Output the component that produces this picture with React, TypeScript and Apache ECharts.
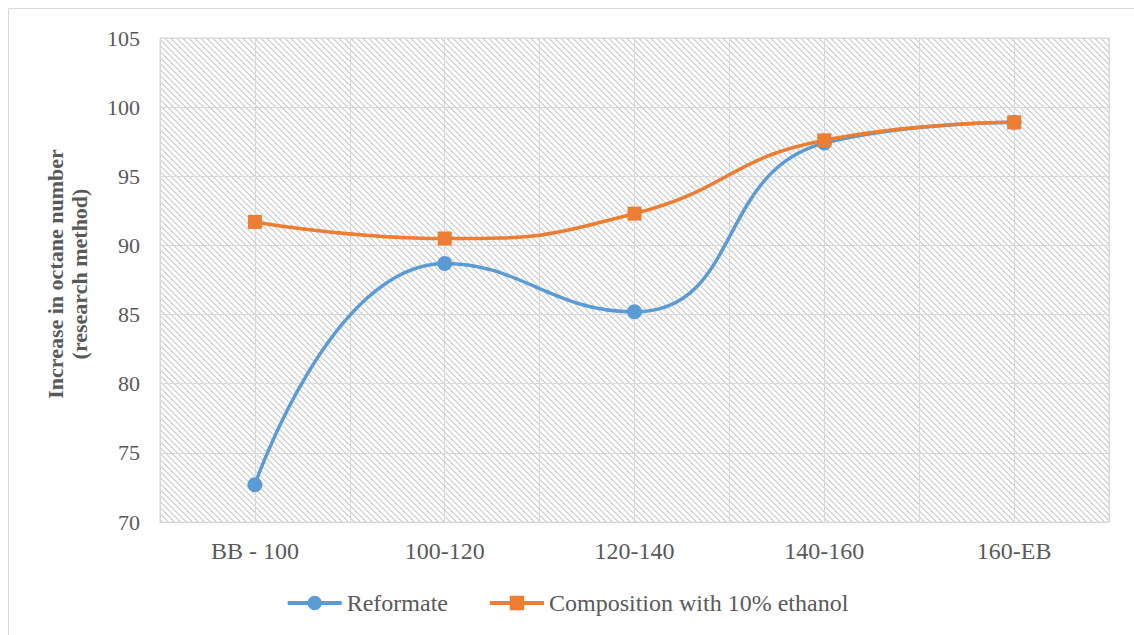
import React, { useEffect, useRef } from "react";
import * as echarts from "echarts";

const categories = ["BB - 100", "100-120", "120-140", "140-160", "160-EB"];
const reformate = [72.7, 88.7, 85.2, 97.4, 98.9];
const ethanolBlend = [91.7, 90.5, 92.3, 97.6, 98.9];
const halfSteps = ["a", "b", "c", "d", "e", "f", "g", "h", "i", "j"];

const FONT = "'Liberation Serif', 'Times New Roman', serif";
const TEXT = "#595959";
const GRID = "#d9d9d9";

// Small tile for the diagonal hatch that fills the plot area
function makeHatch(): string {
  const size = 6;
  const c = document.createElement("canvas");
  c.width = size;
  c.height = size;
  const ctx = c.getContext("2d")!;
  ctx.fillStyle = "#ffffff";
  ctx.fillRect(0, 0, size, size);
  ctx.fillStyle = "#d6d6d6";
  for (let y = 0; y < size; y++) {
    for (let x = 0; x < size; x++) {
      const d = (((x - y) % size) + size) % size;
      if (d === 0 || d === 1) ctx.fillRect(x, y, 1, 1);
    }
  }
  return c.toDataURL();
}

export default function App() {
  const ref = useRef<HTMLDivElement>(null);

  useEffect(() => {
    document.body.style.margin = "0";
    const chart = echarts.init(ref.current!, null, { renderer: "svg" });
    const hatch = makeHatch();

    chart.setOption({
      animation: false,
      backgroundColor: "#ffffff",
      grid: {
        left: 160,
        top: 38,
        right: 25,
        bottom: 113,
        show: true,
        borderColor: GRID,
        borderWidth: 1,
        backgroundColor: {
          image: hatch,
          imageWidth: 6,
          imageHeight: 6,
          repeat: "repeat",
        } as any,
      },
      graphic: [
        {
          type: "rect",
          silent: true,
          shape: { x: 8.5, y: 8.5, width: 1200, height: 700 },
          style: { fill: "none", stroke: GRID, lineWidth: 1 },
          z: -10,
        },
        {
          type: "text",
          x: 67,
          y: 274,
          rotation: Math.PI / 2,
          style: {
            text: "Increase in octane number\n(research method)",
            font: `bold 22px ${FONT}`,
            fill: TEXT,
            align: "center",
            verticalAlign: "middle",
            lineHeight: 24,
          },
        },
      ],
      legend: {
        bottom: 15,
        left: "center",
        itemWidth: 54,
        itemHeight: 18,
        itemGap: 40,
        lineStyle: { width: 4 },
        textStyle: { fontFamily: FONT, fontSize: 24, color: TEXT },
        data: ["Reformate", "Composition with 10% ethanol"],
      },
      xAxis: [
        {
          type: "category",
          data: categories,
          boundaryGap: true,
          axisLine: { show: true, lineStyle: { color: GRID, width: 1 } },
          axisTick: { show: false },
          splitLine: { show: false },
          axisLabel: {
            fontFamily: FONT,
            fontSize: 24,
            color: TEXT,
            margin: 17,
          },
        },
        {
          type: "category",
          data: halfSteps,
          boundaryGap: true,
          position: "bottom",
          axisLine: { show: false },
          axisTick: { show: false },
          axisLabel: { show: false },
          splitLine: { show: true, lineStyle: { color: GRID, width: 1 } },
        },
      ],
      yAxis: {
        type: "value",
        min: 70,
        max: 105,
        interval: 5,
        axisLine: { show: false },
        axisTick: { show: false },
        splitLine: { show: true, lineStyle: { color: GRID, width: 1 } },
        axisLabel: {
          fontFamily: FONT,
          fontSize: 22,
          color: TEXT,
          margin: 20,
        },
      },
      series: [
        {
          name: "Reformate",
          type: "line",
          data: reformate,
          smooth: 0.5,
          symbol: "circle",
          symbolSize: 15,
          lineStyle: { color: "#5B9BD5", width: 3.5 },
          itemStyle: { color: "#5B9BD5" },
        },
        {
          name: "Composition with 10% ethanol",
          type: "line",
          data: ethanolBlend,
          smooth: 0.5,
          symbol: "rect",
          symbolSize: 14,
          lineStyle: { color: "#ED7D31", width: 3.5 },
          itemStyle: { color: "#ED7D31" },
        },
      ],
    });

    return () => chart.dispose();
  }, []);

  return <div ref={ref} style={{ width: 1134, height: 635 }} />;
}
